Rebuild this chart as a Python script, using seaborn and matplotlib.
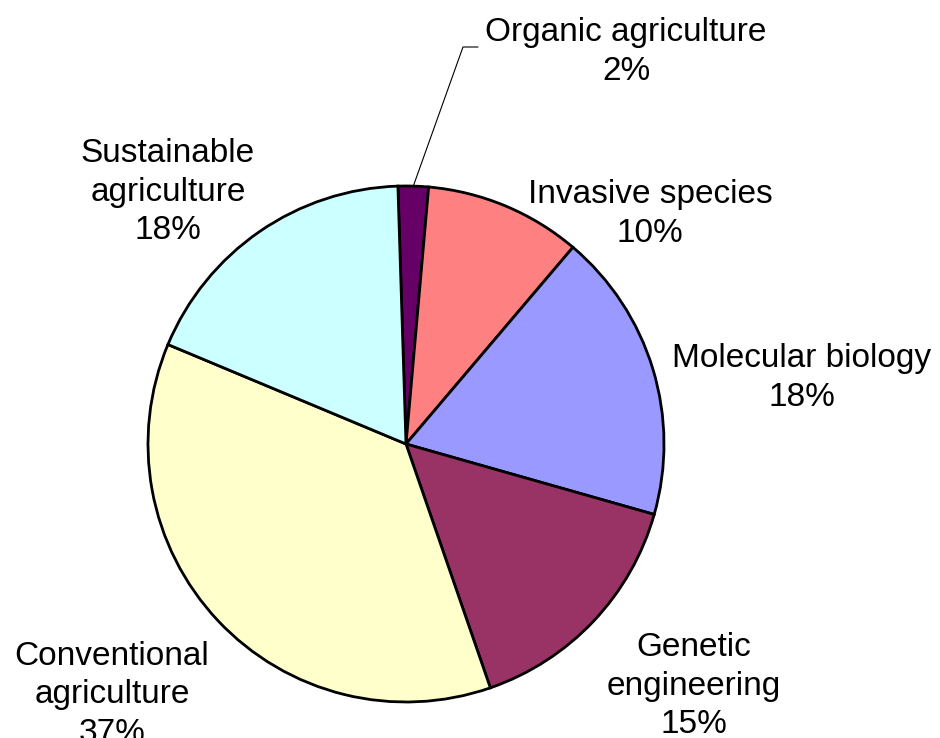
import numpy as np
import matplotlib
matplotlib.use("Agg")
import matplotlib.pyplot as plt
import seaborn as sns

# ---- data ----
categories = ["Organic agriculture", "Invasive species", "Molecular biology",
              "Genetic engineering", "Conventional agriculture", "Sustainable agriculture"]
shares = [1.9, 9.8, 18.2, 15.3, 36.6, 18.2]
colors = ["#660066", "#FF8080", "#9999FF", "#993366", "#FFFFCC", "#CCFFFF"]

# ---- layout (pixel frame, y measured downward from the top) ----
W, H = 940, 738
center_px = (406, 444)
radius_px = 258
label_pos_px = [(626, 52), (650, 214), (802, 378), (694, 686), (112, 695), (168, 192)]
label_break = ["Organic agriculture", "Invasive species", "Molecular biology",
               "Genetic\nengineering", "Conventional\nagriculture", "Sustainable\nagriculture"]

sns.set_theme(style="white")
plt.rcParams["font.family"] = ["Liberation Sans", "DejaVu Sans"]

fig = plt.figure(figsize=(W / 100, H / 100), dpi=100)
ax = fig.add_axes([0, 0, 1, 1])
ax.set_xlim(0, W)
ax.set_ylim(0, H)
ax.set_aspect("equal")
ax.axis("off")

cx, cy = center_px[0], H - center_px[1]
wedges, _ = ax.pie(shares, colors=colors, startangle=91.8, counterclock=False,
                   radius=radius_px, center=(cx, cy),
                   wedgeprops=dict(edgecolor="black", linewidth=2.0))
ax.set_xlim(0, W)
ax.set_ylim(0, H)

for i, (name, v) in enumerate(zip(label_break, shares)):
    x, y = label_pos_px[i]
    ax.text(x, H - y, f"{name}\n{v:.0f}%", ha="center", va="center",
            fontsize=24, linespacing=1.3, color="black")

# leader line for the small slice
w0 = wedges[0]
mid = np.deg2rad((w0.theta1 + w0.theta2) / 2)
ex, ey = cx + radius_px * np.cos(mid), cy + radius_px * np.sin(mid)
ax.plot([ex, 463, 478], [ey, H - 47, H - 47], color="black", lw=0.8)

fig.savefig("out.png", dpi=100)
